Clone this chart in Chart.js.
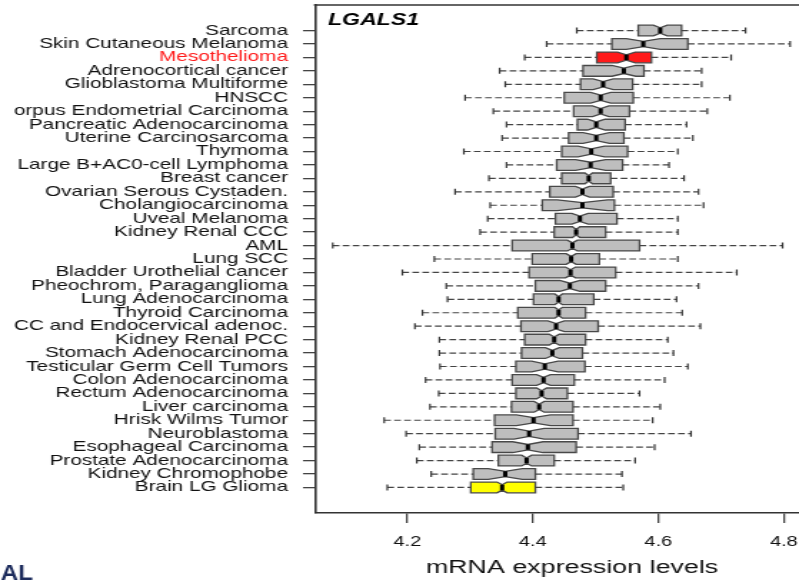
<!DOCTYPE html>
<html>
<head>
<meta charset="utf-8">
<script src="https://cdn.jsdelivr.net/npm/chart.js@4.4.1/dist/chart.umd.min.js"></script>
<style>
  html, body { margin: 0; padding: 0; background: #ffffff; overflow: hidden; width: 799px; height: 583px; }
</style>
</head>
<body>
<canvas id="c" width="580" height="583" style="display:block;width:829px;height:583px;"></canvas>
<script>
// ---- data (top to bottom) ----
const categories = [
  "Sarcoma", "Skin Cutaneous Melanoma", "Mesothelioma", "Adrenocortical cancer",
  "Glioblastoma Multiforme", "HNSCC", "orpus Endometrial Carcinoma",
  "Pancreatic Adenocarcinoma", "Uterine Carcinosarcoma", "Thymoma",
  "Large B+AC0-cell Lymphoma", "Breast cancer", "Ovarian Serous Cystaden.",
  "Cholangiocarcinoma", "Uveal Melanoma", "Kidney Renal CCC", "AML", "Lung SCC",
  "Bladder Urothelial cancer", "Pheochrom, Paraganglioma", "Lung Adenocarcinoma",
  "Thyroid Carcinoma", "CC and Endocervical adenoc.", "Kidney Renal PCC",
  "Stomach Adenocarcinoma", "Testicular Germ Cell Tumors", "Colon Adenocarcinoma",
  "Rectum Adenocarcinoma", "Liver carcinoma", "Hrisk Wilms Tumor", "Neuroblastoma",
  "Esophageal Carcinoma", "Prostate Adenocarcinoma", "Kidney Chromophobe", "Brain LG Glioma"
];
const whiskerLow = [4.470, 4.422, 4.387, 4.347, 4.356, 4.292, 4.337, 4.358, 4.351, 4.290,
  4.358, 4.330, 4.276, 4.332, 4.328, 4.316, 4.081, 4.243, 4.192, 4.262,
  4.264, 4.224, 4.212, 4.251, 4.251, 4.252, 4.229, 4.250, 4.236, 4.163,
  4.198, 4.219, 4.215, 4.238, 4.168];
const quartile1 = [4.568, 4.526, 4.502, 4.480, 4.476, 4.450, 4.465, 4.471, 4.457, 4.446,
  4.438, 4.446, 4.427, 4.415, 4.436, 4.434, 4.367, 4.399, 4.394, 4.404,
  4.401, 4.376, 4.381, 4.387, 4.382, 4.373, 4.367, 4.373, 4.366, 4.339,
  4.340, 4.335, 4.345, 4.305, 4.301];
const medians = [4.603, 4.576, 4.549, 4.545, 4.512, 4.508, 4.508, 4.501, 4.501, 4.493,
  4.492, 4.489, 4.479, 4.479, 4.475, 4.469, 4.463, 4.461, 4.460, 4.459,
  4.441, 4.441, 4.437, 4.434, 4.431, 4.419, 4.417, 4.414, 4.410, 4.401,
  4.394, 4.392, 4.390, 4.356, 4.351];
const quartile3 = [4.637, 4.647, 4.589, 4.577, 4.559, 4.560, 4.554, 4.547, 4.545, 4.551,
  4.543, 4.524, 4.528, 4.530, 4.534, 4.516, 4.570, 4.506, 4.532, 4.516,
  4.497, 4.484, 4.504, 4.484, 4.479, 4.483, 4.466, 4.455, 4.464, 4.464,
  4.472, 4.469, 4.434, 4.404, 4.404];
const whiskerHigh = [4.739, 4.810, 4.716, 4.669, 4.669, 4.714, 4.678, 4.645, 4.655, 4.631,
  4.617, 4.641, 4.664, 4.672, 4.631, 4.631, 4.798, 4.631, 4.725, 4.664,
  4.629, 4.638, 4.667, 4.615, 4.624, 4.647, 4.610, 4.570, 4.603, 4.591,
  4.652, 4.594, 4.563, 4.542, 4.544];
const notchHalf = [0.011, 0.027, 0.014, 0.019, 0.016, 0.016, 0.013, 0.014, 0.021, 0.021,
  0.024, 0.006, 0.011, 0.040, 0.013, 0.006, 0.008, 0.008, 0.008, 0.016,
  0.006, 0.006, 0.013, 0.008, 0.011, 0.021, 0.011, 0.008, 0.008, 0.027,
  0.024, 0.024, 0.008, 0.027, 0.008];
const xTickValues = [4.2, 4.4, 4.6, 4.8];
const geneName = "LGALS1";
const xAxisTitle = "mRNA expression levels";
const cornerText = "AL";

// ---- styles ----
const highlight = { "Mesothelioma": "#ff1a1a", "Brain LG Glioma": "#ffff00" };
const boxGray = "#bebebe";
const FONT = '"Liberation Sans", Arial, Helvetica, sans-serif';

// ---- datasets built from arrays ----
const whiskerPoints = [];
categories.forEach((c, i) => {
  whiskerPoints.push({x: whiskerLow[i], y: i}, {x: quartile1[i], y: i}, {x: null, y: null});
  whiskerPoints.push({x: quartile3[i], y: i}, {x: whiskerHigh[i], y: i}, {x: null, y: null});
});
const staplePoints = [];
categories.forEach((c, i) => {
  staplePoints.push({x: whiskerLow[i], y: i}, {x: whiskerHigh[i], y: i});
});
const medianPoints = categories.map((c, i) => ({x: medians[i], y: i}));

const boxPlugin = {
  id: 'notchedBoxes',
  beforeDatasetsDraw(chart) {
    const {ctx, scales: {x, y}} = chart;
    const h = Math.abs(y.getPixelForValue(0.4) - y.getPixelForValue(0));
    ctx.save();
    categories.forEach((name, i) => {
      const yc = y.getPixelForValue(i);
      const a = x.getPixelForValue(quartile1[i]);
      const b = x.getPixelForValue(quartile3[i]);
      const m = x.getPixelForValue(medians[i]);
      const nl = x.getPixelForValue(medians[i] - notchHalf[i]);
      const nr = x.getPixelForValue(medians[i] + notchHalf[i]);
      ctx.beginPath();
      ctx.moveTo(a, yc - h);
      ctx.lineTo(nl, yc - h);
      ctx.lineTo(m, yc - h / 2);
      ctx.lineTo(nr, yc - h);
      ctx.lineTo(b, yc - h);
      ctx.lineTo(b, yc + h);
      ctx.lineTo(nr, yc + h);
      ctx.lineTo(m, yc + h / 2);
      ctx.lineTo(nl, yc + h);
      ctx.lineTo(a, yc + h);
      ctx.closePath();
      ctx.fillStyle = highlight[name] || boxGray;
      ctx.fill();
      ctx.lineWidth = 1.3;
      ctx.strokeStyle = "#484848";
      ctx.lineJoin = "miter";
      ctx.stroke();
    });
    ctx.restore();
  },
  afterDraw(chart) {
    const {ctx, chartArea} = chart;
    ctx.save();
    // top frame line
    ctx.beginPath();
    ctx.strokeStyle = "#333333";
    ctx.lineWidth = 1.6;
    ctx.moveTo(chartArea.left - 0.8, chartArea.top);
    ctx.lineTo(chartArea.right + 2, chartArea.top);
    ctx.stroke();
    // gene name
    ctx.fillStyle = "#000000";
    ctx.font = 'italic bold 16.2px ' + FONT;
    ctx.textAlign = "left";
    ctx.textBaseline = "alphabetic";
    ctx.fillText(geneName, chartArea.left + 9, 25);
    // corner fragment text
    ctx.translate(23.1, 580);
    ctx.scale(0.77, 1);
    ctx.font = 'bold 22px ' + FONT;
    ctx.fillStyle = "#1c2b5c";
    ctx.textAlign = "right";
    ctx.fillText(cornerText, 0, 0);
    ctx.restore();
  }
};

const chart = new Chart(document.getElementById('c'), {
  type: 'scatter',
  data: {
    datasets: [
      {
        label: 'median',
        data: medianPoints,
        pointStyle: 'line',
        rotation: 90,
        radius: 2.7,
        borderWidth: 3,
        borderColor: '#000000',
        backgroundColor: '#000000',
        showLine: false
      },
      {
        label: 'staple',
        data: staplePoints,
        pointStyle: 'line',
        rotation: 90,
        radius: 3,
        borderWidth: 1.2,
        borderColor: '#333333',
        showLine: false
      },
      {
        label: 'whisker',
        data: whiskerPoints,
        showLine: true,
        spanGaps: false,
        pointRadius: 0,
        borderColor: '#444444',
        borderWidth: 1.2,
        borderDash: [4.7, 2.3]
      }
    ]
  },
  options: {
    responsive: false,
    devicePixelRatio: 1,
    animation: false,
    events: [],
    layout: { autoPadding: false, padding: { top: 5, right: 0, bottom: 0, left: 0 } },
    plugins: { legend: { display: false }, tooltip: { enabled: false } },
    scales: {
      x: {
        type: 'linear',
        position: 'bottom',
        min: 4.0528,
        max: 4.872,
        afterBuildTicks: (scale) => { scale.ticks = xTickValues.map(v => ({value: v})); },
        afterFit: (scale) => { scale.height = 70; scale.paddingLeft = 0; scale.paddingRight = 0; },
        grid: { drawOnChartArea: false, drawTicks: true, tickLength: 10, color: '#444444', lineWidth: 1.3 },
        border: { display: true, color: '#333333', width: 1.6 },
        ticks: {
          padding: 11,
          color: '#111111',
          font: { family: FONT, size: 14 },
          callback: (v) => Number(v).toFixed(1)
        },
        title: {
          display: true,
          text: xAxisTitle,
          color: '#111111',
          font: { family: FONT, size: 18.8 },
          padding: { top: 0, bottom: 4 }
        }
      },
      y: {
        type: 'linear',
        position: 'left',
        reverse: true,
        min: -1.9,
        max: 35.9,
        afterBuildTicks: (scale) => { scale.ticks = categories.map((c, i) => ({value: i})); },
        afterFit: (scale) => { scale.width = 220.4; scale.paddingTop = 0; scale.paddingBottom = 0; },
        grid: { drawOnChartArea: false, drawTicks: true, tickLength: 8.4, color: '#444444', lineWidth: 1.3 },
        border: { display: true, color: '#333333', width: 1.6 },
        ticks: {
          autoSkip: false,
          padding: 10.5,
          font: { family: FONT, size: 14.5 },
          color: (ctx) => (categories[ctx.tick.value] === "Mesothelioma" ? '#ff1a1a' : '#111111'),
          callback: (v) => categories[v]
        }
      }
    }
  },
  plugins: [boxPlugin]
});
</script>
</body>
</html>
